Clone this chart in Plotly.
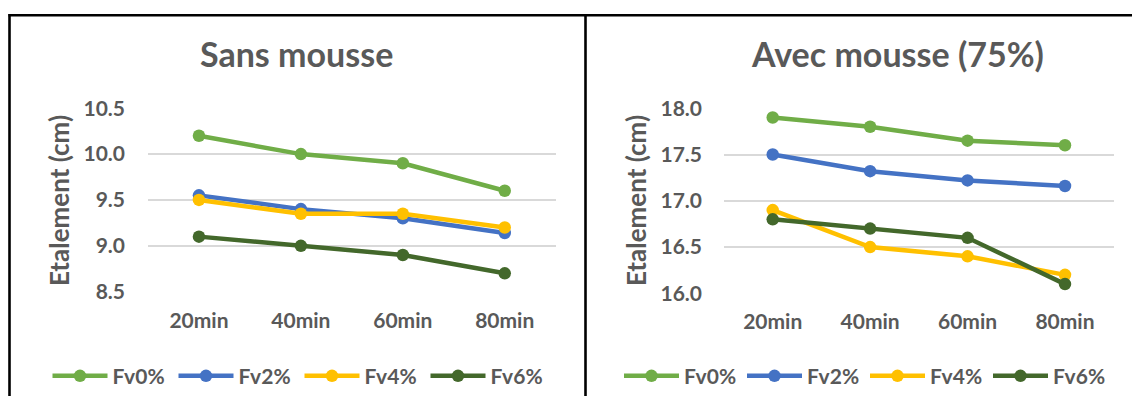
import plotly.graph_objects as go

# ---------------- data ----------------
categories = ["20min", "40min", "60min", "80min"]
series_names = ["Fv0%", "Fv2%", "Fv4%", "Fv6%"]

sans_fv0 = [10.2, 10.0, 9.9, 9.6]
sans_fv2 = [9.55, 9.4, 9.3, 9.14]
sans_fv4 = [9.5, 9.35, 9.35, 9.2]
sans_fv6 = [9.1, 9.0, 8.9, 8.7]

avec_fv0 = [17.9, 17.8, 17.65, 17.6]
avec_fv2 = [17.5, 17.32, 17.22, 17.16]
avec_fv4 = [16.9, 16.5, 16.4, 16.2]
avec_fv6 = [16.8, 16.7, 16.6, 16.1]

sans_title = "Sans mousse"
avec_title = "Avec mousse (75%)"
y_title = "Etalement (cm)"

colors = ["#70AD47", "#4472C4", "#FFC000", "#43682B"]
TXT = "#595959"
FONT = "Lato, Carlito, Calibri, sans-serif"
W, H = 1132, 407

# mapping from target picture pixels to figure paper coordinates
SX, SY, OY = 1.0, 0.933, 14.0

def px(x):
    return (x / SX) / W

def py(y):
    fy = (y - OY) / SY
    return 1 - fy / H

fig = go.Figure()

sans = [sans_fv0, sans_fv2, sans_fv4, sans_fv6]
avec = [avec_fv0, avec_fv2, avec_fv4, avec_fv6]

for name, vals, col in zip(series_names, sans, colors):
    fig.add_trace(go.Scatter(
        x=categories, y=vals, name=name, mode="lines+markers",
        line=dict(color=col, width=4.5), marker=dict(color=col, size=12.5),
        xaxis="x", yaxis="y", legend="legend"))

for name, vals, col in zip(series_names, avec, colors):
    fig.add_trace(go.Scatter(
        x=categories, y=vals, name=name, mode="lines+markers",
        line=dict(color=col, width=4.5), marker=dict(color=col, size=12.5),
        xaxis="x2", yaxis="y2", legend="legend2"))

tickfont = dict(family=FONT, size=21, color=TXT, weight="bold")
grid = "#D9D9D9"

xcommon = dict(type="category", range=[-0.5, 3.5], showgrid=False,
               showline=False, zeroline=False, ticks="", tickfont=tickfont,
               ticklabelstandoff=14, fixedrange=True)
ycommon = dict(showgrid=True, gridcolor=grid, gridwidth=1.6, zeroline=False,
               showline=False, ticks="", dtick=0.5, tickformat=".1f",
               tickfont=tickfont, fixedrange=True)

legcommon = dict(orientation="h", font=dict(family=FONT, size=21, color=TXT, weight="bold"),
                 bgcolor="rgba(0,0,0,0)", yanchor="middle", xanchor="left",
                 itemwidth=55, tracegroupgap=0, itemclick=False)

fig.update_layout(
    width=W, height=H,
    margin=dict(l=0, r=0, t=0, b=0),
    paper_bgcolor="white", plot_bgcolor="white",
    showlegend=True,
    xaxis=dict(domain=[px(148), px(555.7)], anchor="y", **xcommon),
    yaxis=dict(domain=[py(290), py(107.7)], anchor="x", range=[8.5, 10.5],
               ticklabelstandoff=22, **ycommon),
    xaxis2=dict(domain=[px(724), px(1113.7)], anchor="y2", **xcommon),
    yaxis2=dict(domain=[py(291.7), py(107.7)], anchor="x2", range=[16.0, 18.0],
                ticklabelstandoff=21, **ycommon),
    legend=dict(x=px(47.5), y=py(374), entrywidth=56, **legcommon),
    legend2=dict(x=px(619), y=py(374), entrywidth=53, **legcommon),
    annotations=[
        dict(text=sans_title, x=px(296.5), y=py(53), xref="paper", yref="paper",
             showarrow=False, xanchor="center", yanchor="middle",
             font=dict(family=FONT, size=34, color=TXT, weight="bold")),
        dict(text=avec_title, x=px(897), y=py(53), xref="paper", yref="paper",
             showarrow=False, xanchor="center", yanchor="middle",
             font=dict(family=FONT, size=34, color=TXT, weight="bold")),
        dict(text=y_title, x=px(59), y=py(200), xref="paper", yref="paper",
             showarrow=False, xanchor="center", yanchor="middle", textangle=-90,
             font=dict(family=FONT, size=26, color=TXT, weight="bold")),
        dict(text=y_title, x=px(636), y=py(200), xref="paper", yref="paper",
             showarrow=False, xanchor="center", yanchor="middle", textangle=-90,
             font=dict(family=FONT, size=26, color=TXT, weight="bold")),
    ],
    shapes=[
        dict(type="line", xref="paper", yref="paper", x0=px(9.5), x1=px(9.5),
             y0=1, y1=0, line=dict(color="black", width=2.6)),
        dict(type="line", xref="paper", yref="paper", x0=px(8.5), x1=1,
             y0=1 - 1.3 / H, y1=1 - 1.3 / H, line=dict(color="black", width=2.6)),
        dict(type="line", xref="paper", yref="paper", x0=px(585.5), x1=px(585.5),
             y0=1, y1=0, line=dict(color="black", width=2.6)),
    ],
)

post = ("document.documentElement.style.margin = '0';"
        "document.body.style.margin = '0';")

fig.write_html("out.html", config={"displayModeBar": False}, post_script=post)
